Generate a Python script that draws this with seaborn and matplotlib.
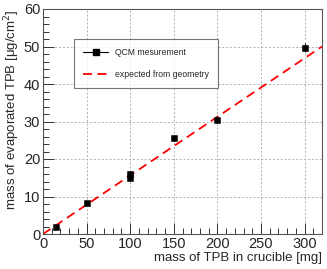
import numpy as np
import pandas as pd
import matplotlib
matplotlib.use("Agg")
import matplotlib.pyplot as plt
import seaborn as sns
from matplotlib.ticker import MultipleLocator
from matplotlib.lines import Line2D

# QCM measurements
tpb_mass = [15, 50, 100, 100, 150, 200, 300]
qcm_thickness = [2.0, 8.3, 15.0, 16.0, 25.5, 30.5, 49.7]
qcm_err = [0.5, 0.6, 0.8, 0.8, 0.8, 0.9, 1.2]

# expected from geometry
geom_x = [0, 320]
geom_y = [0, 50]

sns.set_style("white")
plt.rcParams['font.family'] = ['Liberation Sans', 'DejaVu Sans']

fig = plt.figure(figsize=(3.27, 2.69), dpi=100)
ax = fig.add_axes([43/327, 1 - 234/269, 279/327, 225/269])

df = pd.DataFrame({"x": tpb_mass, "y": qcm_thickness})
line_df = pd.DataFrame({"x": geom_x, "y": geom_y})

sns.lineplot(data=line_df, x="x", y="y", ax=ax, color="red", lw=1.3,
             linestyle=(0, (5, 3)), legend=False, zorder=2)
ax.errorbar(tpb_mass, qcm_thickness, yerr=qcm_err, fmt="none", ecolor="black",
            elinewidth=0.8, zorder=3)
sns.scatterplot(data=df, x="x", y="y", ax=ax, marker="s", color="black",
                s=22, edgecolor="black", zorder=4, legend=False)

ax.set_xlim(0, 320)
ax.set_ylim(0, 60)
ax.xaxis.set_major_locator(MultipleLocator(50))
ax.xaxis.set_minor_locator(MultipleLocator(10))
ax.yaxis.set_major_locator(MultipleLocator(10))
ax.yaxis.set_minor_locator(MultipleLocator(2))
ax.tick_params(which="both", bottom=True, left=True, top=False, right=False,
               direction="in", color="#333333")
ax.tick_params(which="major", length=8, width=0.7, labelsize=10.5, pad=2)
ax.tick_params(which="minor", length=4, width=0.7)
ax.grid(True, which="major", linestyle=(0, (2, 2)), color="#b0b0b0", lw=0.7)
for s in ax.spines.values():
    s.set_color("#555555")
    s.set_linewidth(0.8)

ax.set_xlabel("mass of TPB in crucible [mg]", fontsize=9.5, loc="right", labelpad=1)
ax.set_ylabel("mass of evaporated TPB [μg/cm$^2$]", fontsize=9.5, loc="top", labelpad=1)

# legend
handles = [
    Line2D([], [], color="black", marker="s", markersize=5, lw=0.8),
    Line2D([], [], color="red", lw=1.3, linestyle=(0, (5, 3))),
]
leg = ax.legend(handles, ["QCM mesurement", "expected from geometry"],
                loc="upper left", bbox_to_anchor=(31/279, 1 - 30/225),
                fontsize=6.2, frameon=True, fancybox=False, borderpad=1.0,
                labelspacing=1.6, handlelength=3.0, borderaxespad=0)
leg.get_frame().set_edgecolor("#555555")
leg.get_frame().set_linewidth(0.8)

fig.savefig("out.png", dpi=100)
